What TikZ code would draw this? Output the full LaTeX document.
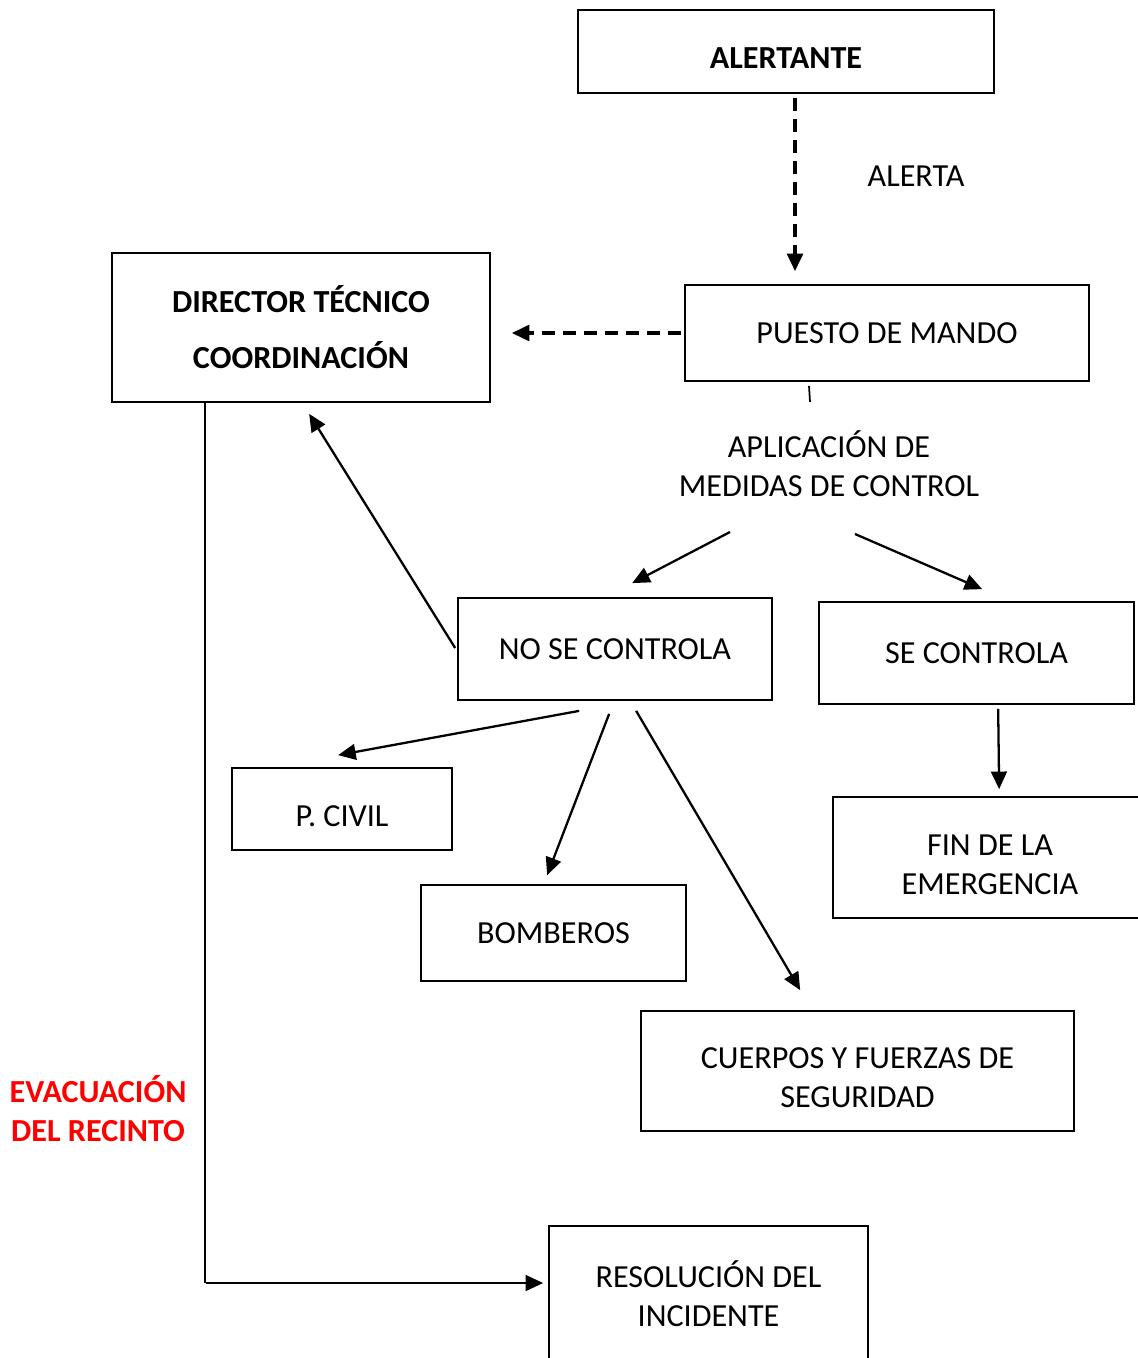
\documentclass[tikz,border=0pt]{standalone}
\usepackage{fontspec}
\setmainfont{Carlito}
\usetikzlibrary{arrows.meta, calc}

\begin{document}
\begin{tikzpicture}[x=0.02cm, y=-0.02cm,
    font=\fontsize{18.3}{22.1}\selectfont,
    >={Triangle[length=10pt, width=9pt]},
    box/.style={draw, line width=1pt, inner sep=0pt, align=center},
    lowtext/.style={label={[align=center, yshift=-0.14cm]center:#1}},
    arrow/.style={->, line width=1.3pt},
    dasharrow/.style={->, line width=2pt, dash pattern=on 7.4pt off 4.6pt},
    line/.style={line width=1pt}]
  \useasboundingbox (0,0) rectangle (1137,1358);
  % boxes
  \node[box, minimum width=8.32cm, minimum height=1.66cm, lowtext=\textbf{ALERTANTE}] (alertante) at (786,51.5) {};
  \node[box, minimum width=8.08cm, minimum height=1.92cm] (puesto) at (887,333) {PUESTO DE MANDO};
  \node[box, minimum width=7.56cm, minimum height=2.98cm] (director) at (301,327.5)
    {\textbf{DIRECTOR TÉCNICO}\\[0.34cm]\textbf{COORDINACIÓN}};
  \node[box, minimum width=6.28cm, minimum height=2.04cm] (nocontrol) at (615,649) {NO SE CONTROLA};
  \node[box, minimum width=6.30cm, minimum height=2.04cm] (secontrol) at (976.5,653) {SE CONTROLA};
  \node[box, minimum width=4.40cm, minimum height=1.64cm, lowtext=P. CIVIL] (pcivil) at (342,809) {};
  \node[box, minimum width=5.30cm, minimum height=1.92cm] (bomberos) at (553.5,933) {BOMBEROS};
  \node[box, minimum width=6.28cm, minimum height=2.42cm, lowtext={FIN DE LA\\EMERGENCIA}] (fin) at (990,857.5) {};
  \node[box, minimum width=8.66cm, minimum height=2.40cm, lowtext={CUERPOS Y FUERZAS DE\\SEGURIDAD}] (cuerpos) at (857.5,1071) {};
  \node[box, minimum width=6.38cm, minimum height=2.72cm] (resolucion) at (708.5,1294) {RESOLUCIÓN DEL\\INCIDENTE};
  % labels
  \node (alerta) at (916,176) {ALERTA};
  \node[align=center] (aplicacion) at (829,464) {APLICACIÓN DE\\MEDIDAS DE CONTROL};
  \node[align=center, text=red] (evacuacion) at (98,1108.5) {\textbf{EVACUACIÓN}\\\textbf{DEL RECINTO}};
  \coordinate (aplL) at (730,532);
  \coordinate (aplR) at (855,534);
  \coordinate (evac) at (205,1283);
  % connectors
  \draw[dasharrow, shorten <=0.08cm, shorten >=0.26cm] ([xshift=0.18cm]alertante.south) -- ([xshift=0.18cm]alertante.south |- puesto.north);
  \draw[dasharrow, shorten <=0.06cm, shorten >=0.42cm] (puesto.west) -- (puesto.west -| director.east);
  \draw[line] ($(puesto.south)+(-78,4)$) -- ++(1,16);
  \draw[arrow] (aplL) -- ($(nocontrol.north west)+(175,-14)$);
  \draw[arrow] (aplR) -- ($(secontrol.north west)+(164,-12)$);
  \draw[arrow] ($(nocontrol.west)+(-2,-1)$) -- ($(director.south west)+(198,11)$);
  \draw[arrow] ($(nocontrol.south west)+(122,10)$) -- ($(pcivil.north west)+(107,-12)$);
  \draw[arrow] ($(nocontrol.south west)+(152,13)$) -- ($(bomberos.north west)+(127,-9)$);
  \draw[arrow] ($(nocontrol.south west)+(179,10)$) -- ($(cuerpos.north west)+(160,-20)$);
  \draw[arrow] ($(secontrol.south west)+(180,4)$) -- ($(fin.north west)+(167,-7)$);
  \draw[line] (director.south -| evac) -- (evac);
  \draw[arrow, shorten >=0.1cm] ([xshift=0.02cm]evac) -- (evac -| resolucion.west);
\end{tikzpicture}
\end{document}
